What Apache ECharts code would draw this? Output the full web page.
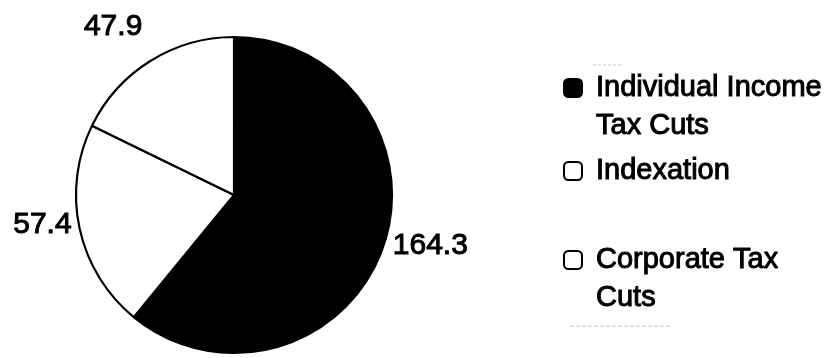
<!DOCTYPE html>
<html>
<head>
<meta charset="utf-8">
<script src="https://cdn.jsdelivr.net/npm/echarts@6/dist/echarts.min.js"></script>
<style>
html,body{margin:0;padding:0;background:#fff;}
#main{width:831px;height:358px;}
</style>
</head>
<body>
<div id="main"></div>
<script>
// ---- data ----
const categories = ['Individual Income Tax Cuts', 'Indexation', 'Corporate Tax Cuts'];
const legendLabels = ['Individual Income\nTax Cuts', 'Indexation', 'Corporate Tax\nCuts'];
const values = [164.3, 57.4, 47.9];
const sliceColors = ['#000000', '#ffffff', '#ffffff'];

const FONT = '"Liberation Sans", Arial, sans-serif';
const chart = echarts.init(document.getElementById('main'), null, {renderer: 'canvas'});

const labelDy = [-3, -4, -34];
const labelLen2 = [5, 3, 3];

// a leading blank line keeps the square level with the first text line
const legendTops = [31, 152, 203];
const legendText = legendLabels.map(t => t.indexOf('\n') >= 0 ? '\n' + t : t);

const legends = categories.map((c, i) => ({
  data: [{name: c, icon: 'roundRect'}],
  orient: 'vertical',
  left: 563,
  top: legendTops[i],
  padding: 0,
  itemWidth: 18,
  itemHeight: 18,
  selectedMode: false,
  itemStyle: {borderColor: '#000', borderWidth: 2},
  formatter: () => legendText[i],
  textStyle: {
    fontFamily: FONT,
    fontSize: 29,
    lineHeight: 38,
    color: '#000',
    textBorderColor: '#000',
    textBorderWidth: 1,
    padding: [0, 0, 0, 9]
  }
}));

chart.setOption({
  backgroundColor: '#ffffff',
  animation: false,
  legend: legends,
  graphic: [
    {type: 'line', shape: {x1: 593, y1: 65, x2: 622, y2: 65}, style: {stroke: '#c8c8c8', lineWidth: 1, lineDash: [3, 2]}},
    {type: 'line', shape: {x1: 570, y1: 326, x2: 672, y2: 326}, style: {stroke: '#c8c8c8', lineWidth: 1, lineDash: [4, 2]}}
  ],
  series: [{
    type: 'pie',
    center: [234, 195],
    radius: 158,
    startAngle: 90,
    clockwise: true,
    avoidLabelOverlap: false,
    emphasis: {disabled: true},
    itemStyle: {borderColor: '#000', borderWidth: 2.2},
    label: {
      show: true,
      position: 'outside',
      formatter: p => String(p.value),
      fontFamily: FONT,
      fontSize: 30,
      color: '#000',
      textBorderColor: '#000',
      textBorderWidth: 1
    },
    labelLine: {show: false, length: 0, length2: 4},
    labelLayout: p => ({dy: labelDy[p.dataIndex]}),
    data: categories.map((c, i) => ({
      name: c,
      value: values[i],
      itemStyle: {color: sliceColors[i]},
      labelLine: {show: false, length: 0, length2: labelLen2[i]}
    }))
  }]
});
</script>
</body>
</html>
